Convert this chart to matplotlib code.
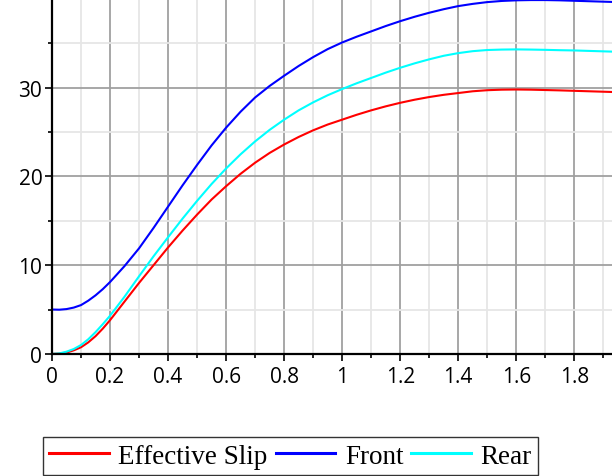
import matplotlib
matplotlib.use("Agg")
import matplotlib.pyplot as plt
from matplotlib.ticker import MultipleLocator

# slip values (finer steps near the origin)
x = [0.0, 0.025, 0.05, 0.075, 0.1, 0.125, 0.15, 0.175, 0.2, 0.25,
     0.3, 0.35, 0.4, 0.45, 0.5, 0.55, 0.6, 0.65, 0.7, 0.75,
     0.8, 0.85, 0.9, 0.95, 1.0, 1.05, 1.1, 1.15, 1.2, 1.25,
     1.3, 1.35, 1.4, 1.45, 1.5, 1.55, 1.6, 1.65, 1.7, 1.75,
     1.8, 1.85, 1.9, 1.95]

effective_slip = [0.0, 0.03, 0.15, 0.4, 0.75, 1.3, 2.0, 2.85, 3.8, 5.9,
                  8.0, 10.0, 12.0, 13.9, 15.7, 17.4, 18.9, 20.3, 21.55, 22.65,
                  23.6, 24.45, 25.2, 25.85, 26.4, 26.95, 27.45, 27.9, 28.3, 28.65,
                  28.95, 29.2, 29.4, 29.6, 29.72, 29.78, 29.8, 29.78, 29.74, 29.7,
                  29.65, 29.6, 29.55, 29.5]

front = [5.0, 4.98, 5.05, 5.22, 5.5, 6.0, 6.6, 7.3, 8.1, 9.9,
         11.9, 14.2, 16.6, 19.0, 21.3, 23.5, 25.5, 27.3, 28.9, 30.2,
         31.35, 32.45, 33.45, 34.35, 35.1, 35.75, 36.35, 36.95, 37.5, 38.0,
         38.45, 38.85, 39.2, 39.45, 39.65, 39.78, 39.85, 39.88, 39.88, 39.85,
         39.8, 39.75, 39.7, 39.65]

rear = [0.0, 0.05, 0.25, 0.55, 1.0, 1.65, 2.45, 3.35, 4.3, 6.45,
        8.75, 11.0, 13.15, 15.25, 17.25, 19.15, 20.9, 22.5, 23.95, 25.25,
        26.4, 27.45, 28.35, 29.15, 29.85, 30.5, 31.1, 31.7, 32.25, 32.75,
        33.2, 33.6, 33.9, 34.12, 34.25, 34.3, 34.32, 34.3, 34.27, 34.23,
        34.2, 34.15, 34.1, 34.05]

xtick_vals = [0, 0.2, 0.4, 0.6, 0.8, 1.0, 1.2, 1.4, 1.6, 1.8]
xtick_labels = ["0", "0.2", "0.4", "0.6", "0.8", "1", "1.2", "1.4", "1.6", "1.8"]
ytick_vals = [0, 10, 20, 30]

fig = plt.figure(figsize=(6.12, 4.77), dpi=100)
ax = fig.add_axes([0.085, 0.256, 0.915, 0.744])

ax.plot(x, effective_slip, color="#ff0000", lw=1.5, label="Effective Slip",
        solid_joinstyle="round", zorder=3)
ax.plot(x, front, color="#0000ff", lw=1.5, label="Front",
        solid_joinstyle="round", zorder=3)
ax.plot(x, rear, color="#00ffff", lw=1.5, label="Rear",
        solid_joinstyle="round", zorder=3)

ax.set_xlim(0, 1.93)
ax.set_ylim(0, 40)

ax.set_xticks(xtick_vals)
ax.set_xticklabels(xtick_labels)
ax.set_yticks(ytick_vals)
ax.xaxis.set_minor_locator(MultipleLocator(0.1))
ax.yaxis.set_minor_locator(MultipleLocator(5))

# grid: darker major, pale minor
ax.grid(which="major", color="#a0a0a0", lw=1.3)
ax.grid(which="minor", color="#e6e6e6", lw=1.3)
ax.set_axisbelow(True)

for side in ["top", "right"]:
    ax.spines[side].set_visible(False)
for side in ["left", "bottom"]:
    ax.spines[side].set_linewidth(1.6)
    ax.spines[side].set_zorder(4)

ax.tick_params(which="major", direction="out", length=5, width=1.2, labelsize=15)
ax.tick_params(axis="x", which="major", pad=4)
ax.tick_params(axis="y", which="major", pad=2)
ax.tick_params(which="minor", direction="out", length=3, width=1.2)
for lab in ax.get_xticklabels() + ax.get_yticklabels():
    lab.set_fontfamily("Open Sans")

leg = fig.legend(loc="center", bbox_to_anchor=(0.4747, 0.0419), ncol=3,
                 prop={"family": "Liberation Serif", "size": 19.5},
                 frameon=True, fancybox=False, handlelength=2.2,
                 handletextpad=0.35, columnspacing=0.3, borderpad=0.25,
                 borderaxespad=0)
leg.get_frame().set_edgecolor("black")
leg.get_frame().set_linewidth(1.0)
for line in leg.get_lines():
    line.set_linewidth(2.2)

fig.savefig("out.png", dpi=100)
